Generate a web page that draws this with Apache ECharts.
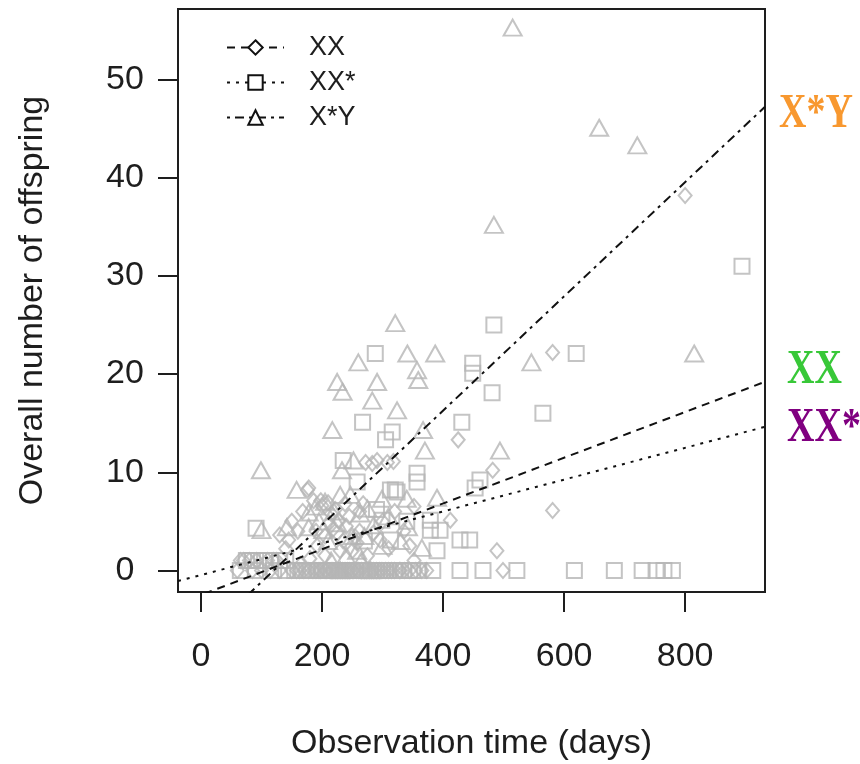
<!DOCTYPE html>
<html><head><meta charset="utf-8">
<script src="https://cdn.jsdelivr.net/npm/echarts@6/dist/echarts.min.js"></script>
<style>html,body{margin:0;padding:0;background:#fff}#chart{width:860px;height:764px}</style>
</head><body><div id="chart"></div>
<script>
// ---- data ----
const seriesNames = ['XX', 'XX*', 'X*Y'];
const xTicks = [0, 200, 400, 600, 800];
const yTicks = [0, 10, 20, 30, 40, 50];

// XX (diamonds)
const xxTime = [800, 581, 425, 482, 581, 489, 412, 291, 308, 318, 283, 176, 178, 198, 186, 215, 200, 210, 130, 145, 140, 240, 225, 255, 296, 258, 230, 205, 180, 165, 373, 499, 329, 352,
  150, 160, 168, 190, 192, 205, 212, 222, 228, 235, 245, 250, 262, 268, 275, 285, 300, 310, 320, 335, 345, 352, 272, 262, 238, 218,
  60, 70, 85, 100, 115, 130, 150, 170, 185, 195, 205, 215, 222, 230, 238, 245, 252, 260, 270, 278, 285, 295, 305, 315, 80, 110, 125,
  158, 163, 178, 190, 198, 208, 218, 226, 234, 242, 250, 257, 265, 274, 282, 290, 299, 310, 320, 328, 336, 345, 355, 365, 65, 92, 120];
const xxOffspring = [38.2, 22.2, 13.3, 10.2, 6.1, 2.0, 5.1, 11.2, 11.0, 11.1, 10.9, 8.2, 8.4, 7.1, 7.1, 5.8, 6.6, 6.9, 3.6, 3.1, 2.2, 4.5, 3.8, 3.4, 3.1, 2.8, 2.0, 1.5, 1.2, 0.6, 0, 0, 0, 6.5,
  5, 4, 6, 4, 2.5, 3.5, 4.8, 6.2, 5, 3, 5.5, 2, 4, 6.8, 1.5, 3.8, 5, 2.2, 6, 4, 2.5, 1, 11.0, 6.0, 6.8, 4.2,
  0, 1, 0, 0, 0, 0, 0, 0, 0, 0, 0, 0, 0, 0, 0, 0, 0, 0, 0, 0, 0, 0, 0, 0, 1, 1, 1,
  0, 0, 0, 0, 0, 0, 0, 0, 0, 0, 0, 0, 0, 0, 0, 0, 0, 0, 0, 0, 0, 0, 0, 0, 1, 1, 1];

// XX* (squares)
const xxsTime = [894, 484, 620, 288, 449, 449, 481, 565, 431, 267, 316, 305, 357, 357, 321, 461, 453, 379, 395, 379, 428, 444, 390, 313, 258, 235, 313, 299, 91, 324, 270, 340, 290,
  428, 466, 522, 617, 683, 729, 752, 765, 779, 383, 330,
  65, 75, 90, 105, 120, 140, 160, 175, 190, 200, 210, 220, 235, 250, 265, 280, 300, 310, 345, 360,
  155, 168, 182, 195, 205, 215, 228, 240, 255, 270, 290, 305, 320, 335, 350, 95, 115, 130, 85, 140];
const xxsOffspring = [31, 25, 22.1, 22.1, 21.1, 20.1, 18.1, 16.0, 15.1, 15.1, 14.1, 13.3, 9.9, 9.0, 8.2, 9.2, 8.4, 5.1, 4.1, 4.1, 3.1, 3.1, 2.0, 3.1, 9.0, 11.2, 8.2, 5.1, 4.3, 8.0, 3, 5, 6.2,
  0, 0, 0, 0, 0, 0, 0, 0, 0, 0, 0,
  0, 1, 0, 1, 0, 0, 0, 0, 0, 0, 0, 0, 0, 0, 0, 0, 0, 0, 0, 0,
  0, 0, 0, 0, 0, 0, 0, 0, 0, 0, 0, 0, 0, 0, 0, 1, 1, 1, 1, 1];

// X*Y (triangles)
const xyTime = [515, 658, 721, 484, 815, 546, 321, 260, 341, 387, 357, 359, 225, 234, 291, 283, 324, 217, 367, 370, 494, 99, 158, 178, 178, 100, 142, 252, 233, 230, 247, 299, 340, 390, 263, 285, 202, 342, 365, 258, 220, 195, 210, 270, 240, 230, 280,
  190, 205, 250, 275, 300, 225, 310, 330, 215, 265];
const xyOffspring = [55.3, 45.1, 43.3, 35.2, 22.1, 21.2, 25.2, 21.2, 22.1, 22.1, 20.4, 19.4, 19.2, 18.2, 19.2, 17.3, 16.3, 14.3, 14.3, 12.2, 12.2, 10.2, 8.2, 5.9, 4.4, 4.1, 4.4, 11.2, 10.2, 7.7, 7.7, 7.3, 7.3, 7.4, 5.8, 4.6, 4.1, 4.4, 2.3, 2.0, 6.0, 5.0, 3.0, 3.5, 1.5, 0, 0,
  6.5, 7, 3.5, 6.3, 2.5, 4.8, 5.5, 3, 1, 1];

// fitted regression lines (intercept, slope) for XX, XX*, X*Y
const fitIntercept = [-2.5, -0.47, -7.0];
const fitSlope = [0.0233, 0.0162, 0.0582];

// ---- layout / style ----
const X_MIN = -38, X_MAX = 932, Y_MIN = -2.2, Y_MAX = 57.2;
const pointColor = '#b5b5b5';
const inkColor = '#1e1e1e';
const fontFam = '"Liberation Sans", Arial, sans-serif';

const zip = (a, b) => a.map((v, i) => [v, b[i]]);
const fitLine = i => [X_MIN, X_MAX].map(x => [x, fitIntercept[i] + fitSlope[i] * x]);

const lineTypes = [[8, 6], [3, 6], [3, 5, 9, 5]];
const legendSymbols = ['emptyDiamond', 'emptyRect', 'emptyTriangle'];

const chart = echarts.init(document.getElementById('chart'), null, {renderer: 'canvas'});
const series = [];
seriesNames.forEach((n, i) => {
  series.push({
    name: n, type: 'line', data: fitLine(i), symbol: legendSymbols[i], showSymbol: false,
    lineStyle: {color: '#111', width: 2, type: lineTypes[i]}, itemStyle: {color: '#111'},
    z: 5, silent: true, clip: true, emphasis: {disabled: true}
  });
});
const pts = [zip(xxTime, xxOffspring), zip(xxsTime, xxsOffspring), zip(xyTime, xyOffspring)];
const ptSymbols = ['diamond', 'rect', 'triangle'];
const ptSizes = [[13, 15], [15, 15], [18, 16]];
seriesNames.forEach((n, i) => {
  series.push({
    name: n + ' data', type: 'scatter', data: pts[i], symbol: ptSymbols[i], symbolSize: ptSizes[i],
    itemStyle: {color: 'rgba(0,0,0,0)', borderColor: pointColor, borderWidth: 2},
    z: 2, silent: true, emphasis: {disabled: true}
  });
});

chart.setOption({
  animation: false,
  backgroundColor: '#fff',
  grid: {left: 178, right: 95, top: 9, bottom: 172, show: true, borderColor: inkColor, borderWidth: 2, containLabel: false, outerBoundsMode: 'none'},
  xAxis: {
    type: 'value', min: X_MIN, max: X_MAX, splitLine: {show: false},
    axisLine: {show: true, onZero: false, lineStyle: {color: inkColor, width: 2}},
    axisTick: {show: true, inside: false, length: 20, customValues: xTicks, lineStyle: {color: inkColor, width: 2}},
    axisLabel: {customValues: xTicks, fontSize: 34, fontFamily: fontFam, color: inkColor, margin: 48},
    name: 'Observation time (days)', nameLocation: 'middle', nameGap: 135,
    nameTextStyle: {fontSize: 34, fontFamily: fontFam, color: inkColor}
  },
  yAxis: {
    type: 'value', min: Y_MIN, max: Y_MAX, splitLine: {show: false},
    axisLine: {show: true, onZero: false, lineStyle: {color: inkColor, width: 2}},
    axisTick: {show: true, inside: false, length: 20, customValues: yTicks, lineStyle: {color: inkColor, width: 2}},
    axisLabel: {customValues: yTicks, fontSize: 34, fontFamily: fontFam, color: inkColor, margin: 53, align: 'center'},
    name: 'Overall number of offspring', nameLocation: 'middle', nameGap: 128,
    nameTextStyle: {fontSize: 34, fontFamily: fontFam, color: inkColor}
  },
  legend: {
    data: seriesNames, orient: 'vertical', left: 226, top: 34, padding: 0, itemWidth: 57, itemHeight: 18, itemGap: 8,
    selectedMode: false,
    textStyle: {fontSize: 27, fontFamily: fontFam, color: inkColor, padding: [0, 0, 0, 20]}
  },
  graphic: [
    {type: 'text', x: 779, y: 114, scaleY: 1.3, silent: true,
     style: {text: 'X*Y', font: 'bold 38px "Liberation Serif", serif', fill: '#f8982f', textAlign: 'left', textVerticalAlign: 'middle', verticalAlign: 'middle'}},
    {type: 'text', x: 787, y: 370, scaleY: 1.3, silent: true,
     style: {text: 'XX', font: 'bold 38px "Liberation Serif", serif', fill: '#38c838', textAlign: 'left', textVerticalAlign: 'middle', verticalAlign: 'middle'}},
    {type: 'text', x: 787, y: 428, scaleY: 1.3, silent: true,
     style: {text: 'XX*', font: 'bold 38px "Liberation Serif", serif', fill: '#800080', textAlign: 'left', textVerticalAlign: 'middle', verticalAlign: 'middle'}}
  ],
  series: series
});
</script>
</body></html>
